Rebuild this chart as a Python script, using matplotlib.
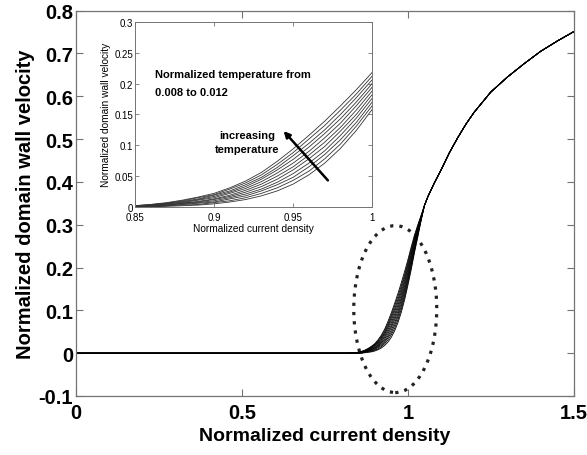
import matplotlib
matplotlib.use("Agg")
import matplotlib.pyplot as plt
from matplotlib.patches import Ellipse

plt.rcParams['font.family'] = ['Liberation Sans', 'DejaVu Sans']

# normalized current density where the temperature curves differ
j_rise = [0.85, 0.86, 0.87, 0.88, 0.89, 0.90, 0.91, 0.92, 0.93, 0.94, 0.95,
          0.96, 0.97, 0.98, 0.99, 1.00, 1.01, 1.02, 1.03, 1.04, 1.05]

# wall velocity for normalized temperature 0.008 ... 0.012 (step 0.0004)
v_t0080 = [0.000, 0.000, 0.001, 0.002, 0.003, 0.005, 0.008, 0.012, 0.018, 0.026, 0.037,
           0.052, 0.071, 0.095, 0.124, 0.158, 0.195, 0.235, 0.272, 0.310, 0.345]
v_t0084 = [0.000, 0.000, 0.002, 0.003, 0.004, 0.007, 0.010, 0.015, 0.022, 0.031, 0.043,
           0.058, 0.078, 0.102, 0.131, 0.164, 0.200, 0.239, 0.275, 0.311, 0.345]
v_t0088 = [0.000, 0.001, 0.002, 0.004, 0.006, 0.008, 0.013, 0.018, 0.026, 0.036, 0.048,
           0.065, 0.085, 0.109, 0.137, 0.170, 0.206, 0.243, 0.278, 0.312, 0.345]
v_t0092 = [0.001, 0.001, 0.003, 0.005, 0.007, 0.010, 0.015, 0.021, 0.029, 0.040, 0.054,
           0.071, 0.091, 0.116, 0.144, 0.176, 0.211, 0.247, 0.280, 0.314, 0.345]
v_t0096 = [0.001, 0.002, 0.003, 0.006, 0.008, 0.012, 0.017, 0.024, 0.033, 0.045, 0.060,
           0.078, 0.098, 0.123, 0.150, 0.182, 0.216, 0.251, 0.283, 0.315, 0.345]
v_t0100 = [0.001, 0.002, 0.004, 0.006, 0.009, 0.013, 0.019, 0.027, 0.037, 0.050, 0.065,
           0.084, 0.105, 0.129, 0.157, 0.188, 0.221, 0.255, 0.286, 0.316, 0.345]
v_t0104 = [0.001, 0.002, 0.005, 0.007, 0.011, 0.015, 0.022, 0.030, 0.041, 0.055, 0.071,
           0.090, 0.112, 0.136, 0.164, 0.194, 0.227, 0.260, 0.289, 0.317, 0.345]
v_t0108 = [0.001, 0.003, 0.005, 0.008, 0.012, 0.017, 0.024, 0.033, 0.045, 0.060, 0.077,
           0.097, 0.119, 0.143, 0.170, 0.200, 0.232, 0.264, 0.292, 0.318, 0.345]
v_t0112 = [0.002, 0.003, 0.006, 0.009, 0.013, 0.019, 0.026, 0.036, 0.048, 0.064, 0.083,
           0.103, 0.125, 0.150, 0.177, 0.206, 0.237, 0.268, 0.294, 0.320, 0.345]
v_t0116 = [0.002, 0.004, 0.006, 0.010, 0.015, 0.020, 0.029, 0.039, 0.052, 0.069, 0.088,
           0.110, 0.132, 0.157, 0.183, 0.212, 0.243, 0.272, 0.297, 0.321, 0.345]
v_t0120 = [0.002, 0.004, 0.007, 0.011, 0.016, 0.022, 0.031, 0.042, 0.056, 0.074, 0.094,
           0.116, 0.139, 0.164, 0.190, 0.218, 0.248, 0.276, 0.300, 0.322, 0.345]

# common branch once the curves have merged
j_tail = [1.06, 1.08, 1.10, 1.125, 1.15, 1.175, 1.20, 1.25, 1.30, 1.35, 1.40, 1.45, 1.50]
v_tail = [0.365, 0.398, 0.428, 0.468, 0.503, 0.535, 0.563, 0.610, 0.645, 0.676, 0.705, 0.729, 0.751]

curves = [v_t0080, v_t0084, v_t0088, v_t0092, v_t0096, v_t0100,
          v_t0104, v_t0108, v_t0112, v_t0116, v_t0120]

main_xticks = [0, 0.5, 1, 1.5]
main_xlabels = ['0', '0.5', '1', '1.5']
main_yticks = [-0.1, 0, 0.1, 0.2, 0.3, 0.4, 0.5, 0.6, 0.7, 0.8]
main_ylabels = ['-0.1', '0', '0.1', '0.2', '0.3', '0.4', '0.5', '0.6', '0.7', '0.8']
ins_xticks = [0.85, 0.9, 0.95, 1]
ins_xlabels = ['0.85', '0.9', '0.95', '1']
ins_yticks = [0, 0.05, 0.1, 0.15, 0.2, 0.25, 0.3]
ins_ylabels = ['0', '0.05', '0.1', '0.15', '0.2', '0.25', '0.3']

fig = plt.figure(figsize=(5.87, 4.56), dpi=100)
ax = fig.add_axes([0.1295, 0.1294, 0.848, 0.845])

for v in curves:
    ax.plot([0, 0.82] + j_rise + j_tail, [0, 0] + v + v_tail, color='black', lw=0.6)

ax.add_patch(Ellipse((0.962, 0.103), 0.25, 0.39, fill=False, edgecolor='#222222',
                     lw=2.3, linestyle=(0, (1, 1.9)), capstyle='butt'))

ax.set_xlim(0, 1.5)
ax.set_ylim(-0.1, 0.8)
ax.set_xticks(main_xticks)
ax.set_xticklabels(main_xlabels, fontsize=14.5, fontweight='bold')
ax.set_yticks(main_yticks)
ax.set_yticklabels(main_ylabels, fontsize=14.5, fontweight='bold')
ax.tick_params(direction='in', length=5, width=0.8, color='0.45', top=True, right=True, pad=2)
ax.tick_params(axis='x', pad=5)
for s in ax.spines.values():
    s.set_color('0.45')
    s.set_linewidth(0.9)
ax.set_xlabel('Normalized current density', fontsize=14, fontweight='bold', labelpad=4)
ax.set_ylabel('Normalized domain wall velocity', fontsize=14.5, fontweight='bold', labelpad=3)

# inset: zoom on the low-current region
ins = fig.add_axes([0.230, 0.544, 0.404, 0.406])
for v in curves:
    ins.plot(j_rise, v, color='0.2', lw=0.6)
ins.set_xlim(0.85, 1)
ins.set_ylim(0, 0.3)
ins.set_xticks(ins_xticks)
ins.set_xticklabels(ins_xlabels, fontsize=7)
ins.set_yticks(ins_yticks)
ins.set_yticklabels(ins_ylabels, fontsize=7)
ins.tick_params(direction='in', length=3, width=0.6, color='0.45', top=True, right=True, pad=1.5)
ins.tick_params(axis='x', pad=4)
for s in ins.spines.values():
    s.set_color('0.45')
    s.set_linewidth(0.7)
ins.set_xlabel('Normalized current density', fontsize=7.3, labelpad=0.5)
ins.set_ylabel('Normalized domain wall velocity', fontsize=7.3, labelpad=2)

ins.text(0.8627, 0.2155, 'Normalized temperature from', fontsize=8, fontweight='bold',
         va='center', ha='left')
ins.text(0.8627, 0.186, '0.008 to 0.012', fontsize=8, fontweight='bold',
         va='center', ha='left')
ins.text(0.9207, 0.116, 'increasing', fontsize=8, fontweight='bold', va='center', ha='center')
ins.text(0.9207, 0.094, 'temperature', fontsize=8, fontweight='bold', va='center', ha='center')
ins.annotate('', xy=(0.944, 0.123), xytext=(0.972, 0.043),
             arrowprops=dict(arrowstyle='-|>', color='black', lw=1.8, mutation_scale=9,
                             shrinkA=0, shrinkB=0))

fig.savefig('out.png', dpi=100)
